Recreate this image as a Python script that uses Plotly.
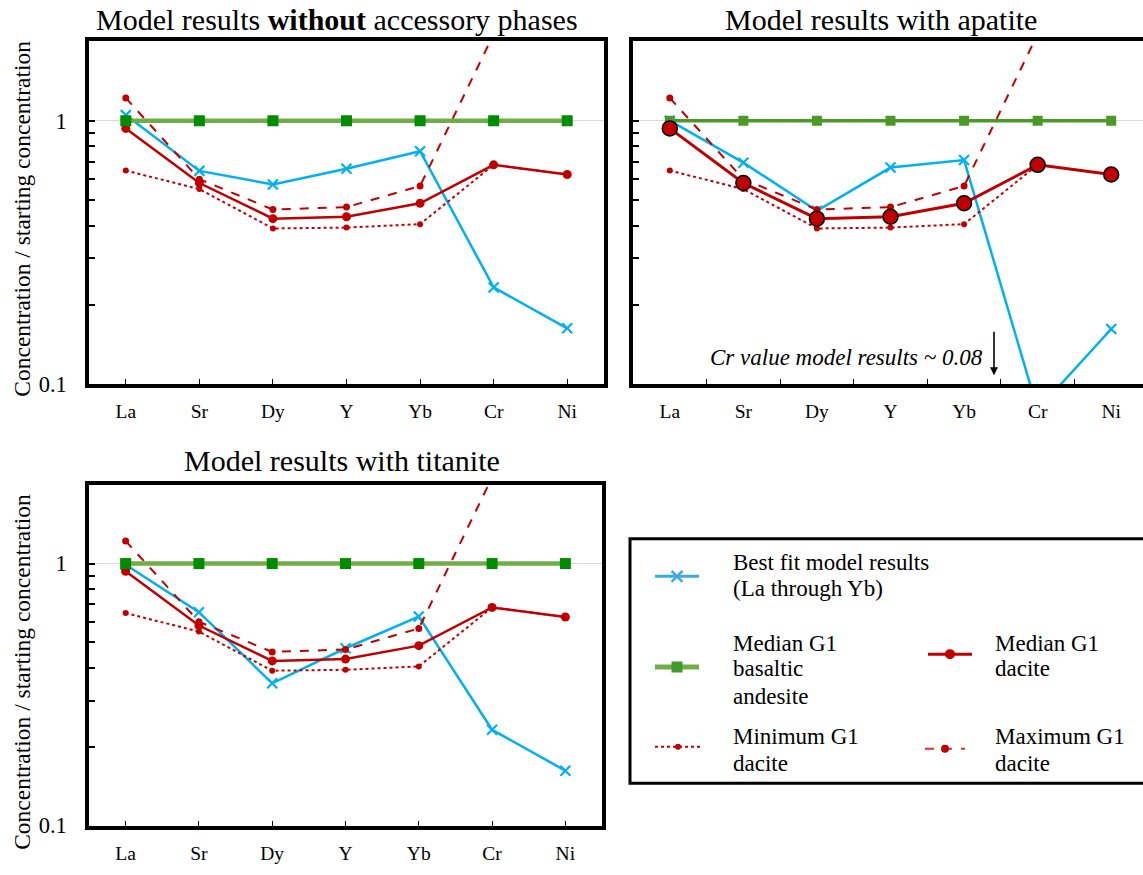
import math
import plotly.graph_objects as go

W, H = 1143, 875
FONT = "Liberation Serif"

# Elements on the horizontal axis
elements = ["La", "Sr", "Dy", "Y", "Yb", "Cr", "Ni"]

# G1 compositions normalised to the starting (median basaltic andesite) concentration
andesite_median = [1.0, 1.0, 1.0, 1.0, 1.0, 1.0, 1.0]
dacite_median = [0.935, 0.58, 0.425, 0.432, 0.486, 0.68, 0.625]
dacite_max = [1.22, 0.60, 0.46, 0.47, 0.565, 2.13, 2.6]
dacite_min = [0.647, 0.55, 0.39, 0.393, 0.405, 0.68, 0.625]

# Best-fit fractional crystallisation model results
model_no_accessory = [1.05, 0.645, 0.573, 0.657, 0.766, 0.233, 0.163]
model_apatite = [1.0, 0.693, 0.455, 0.664, 0.709, 0.08, 0.162]
model_titanite = [0.99, 0.652, 0.349, 0.475, 0.628, 0.232, 0.162]

# Log axis ticks
y_major = [0.1, 1]
y_major_text = ["0.1", "1"]
y_minor = [0.2, 0.3, 0.4, 0.5, 0.6, 0.7, 0.8, 0.9]

BLUE = "#00B0F0"
GREEN_LINE = "#70AD47"
GREEN_MARK = "#008C00"
GREEN_DARK = "#4B9A28"
RED = "#C00000"


def fx(px):
    return px / W


def fy(py):
    return 1 - py / H


fig = go.Figure()

# panel geometry in pixels: (left, right, top, bottom)
panels = {
    "": (89, 604, 42, 390),
    "2": (633, 1143, 42, 390),
    "3": (89, 602, 492, 838),
}


def add_series(ax, model, big_median=False, green_dark=False):
    xa, ya = "x" + ax, "y" + ax
    fig.add_trace(go.Scatter(
        x=elements, y=model, xaxis=xa, yaxis=ya, mode="lines+markers",
        line=dict(color=BLUE, width=2.5),
        marker=dict(symbol="x-thin", size=10, line=dict(color=BLUE, width=2.2)),
        showlegend=False))
    fig.add_trace(go.Scatter(
        x=elements, y=dacite_min, xaxis=xa, yaxis=ya, mode="lines+markers",
        line=dict(color=RED, width=2, dash="dot"),
        marker=dict(symbol="circle", size=6, color=RED),
        showlegend=False))
    fig.add_trace(go.Scatter(
        x=elements, y=dacite_max, xaxis=xa, yaxis=ya, mode="lines+markers",
        line=dict(color=RED, width=2, dash="dash"),
        marker=dict(symbol="circle", size=7, color=RED),
        showlegend=False))
    if green_dark:
        gline, gmark, gw, gs = GREEN_DARK, GREEN_DARK, 3.5, 10
    else:
        gline, gmark, gw, gs = GREEN_LINE, GREEN_MARK, 4.5, 11
    green = go.Scatter(
        x=elements, y=andesite_median, xaxis=xa, yaxis=ya, mode="lines+markers",
        line=dict(color=gline, width=gw),
        marker=dict(symbol="square", size=gs, color=gmark),
        showlegend=False)
    if big_median:
        median = go.Scatter(
            x=elements, y=dacite_median, xaxis=xa, yaxis=ya, mode="lines+markers",
            line=dict(color=RED, width=3),
            marker=dict(symbol="circle", size=15, color=RED,
                        line=dict(color="black", width=1.5)),
            showlegend=False)
        fig.add_trace(green)
        fig.add_trace(median)
    else:
        median = go.Scatter(
            x=elements, y=dacite_median, xaxis=xa, yaxis=ya, mode="lines+markers",
            line=dict(color=RED, width=2.5),
            marker=dict(symbol="circle", size=9, color=RED),
            showlegend=False)
        fig.add_trace(median)
        fig.add_trace(green)


add_series("", model_no_accessory)
add_series("2", model_apatite, big_median=True, green_dark=True)
add_series("3", model_titanite)

ymax = math.log10(2)
layout = {}
for ax, (l, r, t, b) in panels.items():
    right_unit = 6.5 if ax != "2" else -0.5 + (r - l) / ((604 - 89) / 7.0)
    layout["xaxis" + ax] = dict(
        domain=[fx(l), fx(r)], anchor="y" + ax,
        type="category", categoryorder="array", categoryarray=elements,
        range=[-0.5, right_unit],
        showline=True, linecolor="black", linewidth=3.5, mirror=True,
        ticks="inside", ticklen=5, tickwidth=1, tickcolor="black",
        tickson="boundaries" if ax == "2" else "labels",
        showgrid=False, zeroline=False,
        tickfont=dict(family=FONT, size=19.5, color="black"),
        ticklabelstandoff=7,
        fixedrange=True,
    )
    layout["yaxis" + ax] = dict(
        domain=[fy(b), fy(t)], anchor="x" + ax,
        type="log", range=[-1, ymax],
        showline=True, linecolor="black", linewidth=3.5,
        mirror=(ax != "2"),
        tickmode="array", tickvals=y_major, ticktext=y_major_text,
        ticks="inside", ticklen=6, tickwidth=2, tickcolor="black",
        showticklabels=(ax != "2"),
        tickfont=dict(family=FONT, size=22.5, color="black"),
        ticklabelstandoff=14,
        showgrid=True, gridcolor="#D9D9D9", gridwidth=1.2,
        minor=dict(tickmode="array", tickvals=y_minor, ticks="inside",
                   ticklen=6, tickwidth=2, tickcolor="black", showgrid=False),
        zeroline=False, fixedrange=True,
    )

# legend area in pixel coordinates
LX0, LX1, LY0, LY1 = 630, 1143, 547, 795
layout["xaxis4"] = dict(domain=[fx(LX0), 1], anchor="y4", range=[LX0, LX1],
                        visible=False, fixedrange=True)
layout["yaxis4"] = dict(domain=[fy(LY1), fy(LY0)], anchor="x4",
                        range=[LY1, LY0], visible=False, fixedrange=True)


def legend_sample(x0, x1, y, line, marker):
    fig.add_trace(go.Scatter(x=[x0, x1], y=[y, y], xaxis="x4", yaxis="y4",
                             mode="lines", line=line, showlegend=False,
                             hoverinfo="skip"))
    fig.add_trace(go.Scatter(x=[(x0 + x1) / 2], y=[y], xaxis="x4", yaxis="y4",
                             mode="markers", marker=marker, showlegend=False,
                             hoverinfo="skip"))


legend_sample(655, 699, 585, dict(color="#3FA8E6", width=3),
              dict(symbol="x-thin", size=11, line=dict(color="#3FA8E6", width=2.5)))
legend_sample(655, 699, 677, dict(color=GREEN_LINE, width=5),
              dict(symbol="square", size=11, color="#3E9A2A"))
legend_sample(928, 972, 664, dict(color=RED, width=3),
              dict(symbol="circle", size=10, color=RED))
legend_sample(655, 701, 758, dict(color=RED, width=2, dash="dot"),
              dict(symbol="circle", size=6, color=RED))
legend_sample(925, 965, 760, dict(color="#E03030", width=2, dash="dash"),
              dict(symbol="circle", size=8, color=RED))

annotations = []


def text(x, y, s, size, xanchor="center", **kw):
    annotations.append(dict(x=fx(x), y=fy(y), xref="paper", yref="paper",
                            text=s, showarrow=False, xanchor=xanchor,
                            yanchor="middle",
                            font=dict(family=FONT, size=size, color="black"),
                            **kw))


# panel titles
text(337, 20, "Model results <b>without</b> accessory phases", 30)
text(881, 20, "Model results with apatite", 30)
text(342, 467, "Model results with titanite", 30)

# y-axis titles
text(22, 222, "Concentration / starting concentration", 23.5, textangle=-90)
text(22, 682, "Concentration / starting concentration", 23.5, textangle=-90)

# note on the off-scale Cr value in the apatite model
text(985, 363, "<i>Cr value model results ~ 0.08</i>", 23, xanchor="right")
annotations.append(dict(x=fx(994), y=fy(381), xref="paper", yref="paper",
                        ax=0, ay=-45, axref="pixel", ayref="pixel",
                        text="", showarrow=True, arrowhead=2, arrowsize=1,
                        arrowwidth=1.6, arrowcolor="black"))

# legend entries
for y, s in [(571, "Best fit model results"), (597, "(La through Yb)"),
             (653, "Median G1"), (679, "basaltic"), (707, "andesite"),
             (748, "Minimum G1"), (775, "dacite")]:
    text(731, y, s, 23, xanchor="left")
for y, s in [(653, "Median G1"), (679, "dacite"),
             (748, "Maximum G1"), (775, "dacite")]:
    text(993, y, s, 23, xanchor="left")

shapes = [dict(type="rect", xref="paper", yref="paper",
               x0=fx(LX0), x1=1.02, y0=fy(LY1), y1=fy(LY0),
               line=dict(color="black", width=3), fillcolor="rgba(0,0,0,0)")]

fig.update_layout(
    width=W, height=H,
    margin=dict(l=0, r=0, t=0, b=0),
    paper_bgcolor="white", plot_bgcolor="white",
    font=dict(family=FONT, color="black"),
    annotations=annotations, shapes=shapes,
    showlegend=False,
    **layout,
)

fig.write_html("out.html", config={"displayModeBar": False})
